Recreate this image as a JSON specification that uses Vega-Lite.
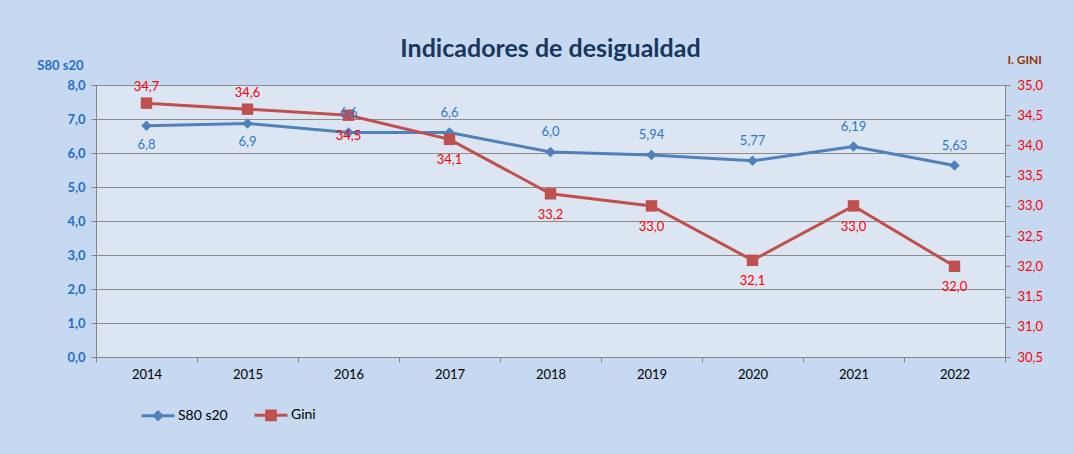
{
  "$schema": "https://vega.github.io/schema/vega-lite/v6.json",
  "width": 909,
  "height": 272,
  "autosize": "none",
  "padding": {"left": 96, "top": 85, "right": 68, "bottom": 97},
  "background": "#c6d9f0",
  "title": {
    "text": "Indicadores de desigualdad",
    "font": "Lato",
    "fontSize": 25,
    "fontWeight": "bold",
    "color": "#17375e",
    "anchor": "middle",
    "offset": -9
  },
  "data": {
    "values": [
      {"year": "2014", "s80": 6.8, "s80lbl": "6,8", "gini": 34.7},
      {"year": "2015", "s80": 6.87, "s80lbl": "6,9", "gini": 34.6},
      {"year": "2016", "s80": 6.6, "s80lbl": "6,6", "gini": 34.5},
      {"year": "2017", "s80": 6.6, "s80lbl": "6,6", "gini": 34.1},
      {"year": "2018", "s80": 6.03, "s80lbl": "6,0", "gini": 33.2},
      {"year": "2019", "s80": 5.94, "s80lbl": "5,94", "gini": 33.0},
      {"year": "2020", "s80": 5.77, "s80lbl": "5,77", "gini": 32.1},
      {"year": "2021", "s80": 6.19, "s80lbl": "6,19", "gini": 33.0},
      {"year": "2022", "s80": 5.63, "s80lbl": "5,63", "gini": 32.0}
    ]
  },
  "encoding": {
    "x": {
      "field": "year",
      "type": "ordinal",
      "bandPosition": 0.5,
      "scale": {"type": "band", "paddingInner": 0, "paddingOuter": 0},
      "axis": {
        "title": null,
        "labelAngle": 0,
        "tickBand": "extent",
        "grid": false,
        "tickSize": 5,
        "labelPadding": 6,
        "labelFont": "Lato",
        "labelFontSize": 13,
        "labelColor": "#000000",
        "domainColor": "#868686",
        "tickColor": "#868686"
      }
    }
  },
  "layer": [
    {
      "encoding": {
        "y": {
          "field": "s80",
          "type": "quantitative",
          "scale": {"domain": [0, 8], "nice": false, "zero": false},
          "axis": {
            "orient": "left",
            "values": [0, 1, 2, 3, 4, 5, 6, 7, 8],
            "format": ".1f",
            "title": "S80 s20",
            "titleAngle": 0,
            "titleAlign": "right",
            "titleBaseline": "middle",
            "titleX": -13,
            "titleY": -20,
            "titleFont": "Lato",
            "titleFontSize": 13,
            "titleFontWeight": "bold",
            "titleColor": "#1e6fcf",
            "labelFont": "Lato",
            "labelFontSize": 13,
            "labelFontWeight": "bold",
            "labelColor": "#1e6fcf",
            "labelPadding": 6,
            "tickSize": 5,
            "tickColor": "#868686",
            "domainColor": "#868686",
            "grid": true,
            "gridColor": "#8c8c8c",
            "gridWidth": 1
          }
        }
      },
      "layer": [
        {
          "mark": {"type": "line", "strokeWidth": 3},
          "encoding": {
            "color": {
              "datum": "S80 s20",
              "type": "nominal",
              "legend": {"encode": {"symbols": {"update": {
                "shape": {"signal": "datum.value == 'Gini' ? 'M-1,0L1,0M-0.26,-0.26L0.26,-0.26L0.26,0.26L-0.26,0.26Z' : 'M-1,0L1,0M0,-0.22L0.22,0L0,0.22L-0.22,0Z'"},
                "fill": {"signal": "datum.value == 'Gini' ? '#c0504d' : '#4f81bd'"},
                "stroke": {"signal": "datum.value == 'Gini' ? '#c0504d' : '#4f81bd'"},
                "strokeWidth": {"value": 3},
                "opacity": {"value": 1}
              }}}}
            }
          }
        },
        {
          "mark": {"type": "point", "shape": "diamond", "filled": true, "size": 110, "opacity": 1},
          "encoding": {
            "color": {
              "datum": "S80 s20",
              "type": "nominal",
              "legend": {"encode": {"symbols": {"update": {
                "shape": {"signal": "datum.value == 'Gini' ? 'M-1,0L1,0M-0.26,-0.26L0.26,-0.26L0.26,0.26L-0.26,0.26Z' : 'M-1,0L1,0M0,-0.22L0.22,0L0,0.22L-0.22,0Z'"},
                "fill": {"signal": "datum.value == 'Gini' ? '#c0504d' : '#4f81bd'"},
                "stroke": {"signal": "datum.value == 'Gini' ? '#c0504d' : '#4f81bd'"},
                "strokeWidth": {"value": 3},
                "opacity": {"value": 1}
              }}}}
            }
          }
        }
      ]
    },
    {
      "encoding": {
        "y": {
          "field": "gini",
          "type": "quantitative",
          "scale": {"domain": [30.5, 35], "nice": false, "zero": false},
          "axis": {
            "orient": "right",
            "values": [30.5, 31, 31.5, 32, 32.5, 33, 33.5, 34, 34.5, 35],
            "format": ".1f",
            "title": "I. GINI",
            "titleAngle": 0,
            "titleAlign": "left",
            "titleBaseline": "middle",
            "titleX": 2,
            "titleY": -26,
            "titleFont": "Lato",
            "titleFontSize": 12,
            "titleFontWeight": "bold",
            "titleColor": "#993300",
            "labelFont": "Lato",
            "labelFontSize": 13,
            "labelColor": "#ff0000",
            "labelPadding": 7,
            "tickSize": 5,
            "tickColor": "#868686",
            "domainColor": "#868686",
            "grid": false
          }
        }
      },
      "layer": [
        {
          "mark": {"type": "line", "strokeWidth": 3},
          "encoding": {
            "color": {
              "datum": "Gini",
              "type": "nominal",
              "legend": {"encode": {"symbols": {"update": {
                "shape": {"signal": "datum.value == 'Gini' ? 'M-1,0L1,0M-0.26,-0.26L0.26,-0.26L0.26,0.26L-0.26,0.26Z' : 'M-1,0L1,0M0,-0.22L0.22,0L0,0.22L-0.22,0Z'"},
                "fill": {"signal": "datum.value == 'Gini' ? '#c0504d' : '#4f81bd'"},
                "stroke": {"signal": "datum.value == 'Gini' ? '#c0504d' : '#4f81bd'"},
                "strokeWidth": {"value": 3},
                "opacity": {"value": 1}
              }}}}
            }
          }
        },
        {
          "mark": {"type": "point", "shape": "square", "filled": true, "size": 130, "opacity": 1},
          "encoding": {
            "color": {
              "datum": "Gini",
              "type": "nominal",
              "legend": {"encode": {"symbols": {"update": {
                "shape": {"signal": "datum.value == 'Gini' ? 'M-1,0L1,0M-0.26,-0.26L0.26,-0.26L0.26,0.26L-0.26,0.26Z' : 'M-1,0L1,0M0,-0.22L0.22,0L0,0.22L-0.22,0Z'"},
                "fill": {"signal": "datum.value == 'Gini' ? '#c0504d' : '#4f81bd'"},
                "stroke": {"signal": "datum.value == 'Gini' ? '#c0504d' : '#4f81bd'"},
                "strokeWidth": {"value": 3},
                "opacity": {"value": 1}
              }}}}
            }
          }
        }
      ]
    },
    {
      "encoding": {
        "y": {
          "field": "s80",
          "type": "quantitative",
          "scale": {"domain": [0, 8], "nice": false, "zero": false},
          "axis": null
        },
        "text": {"field": "s80lbl"}
      },
      "layer": [
        {
          "transform": [{"filter": "datum.year == '2014' || datum.year == '2015'"}],
          "mark": {"type": "text", "dy": 19, "baseline": "middle", "font": "Lato", "fontSize": 13, "color": "#2a78d2"}
        },
        {
          "transform": [{"filter": "datum.year != '2014' && datum.year != '2015'"}],
          "mark": {"type": "text", "dy": -20, "baseline": "middle", "font": "Lato", "fontSize": 13, "color": "#2a78d2"}
        }
      ]
    },
    {
      "encoding": {
        "y": {
          "field": "gini",
          "type": "quantitative",
          "scale": {"domain": [30.5, 35], "nice": false, "zero": false},
          "axis": null
        },
        "text": {"field": "gini", "format": ".1f"}
      },
      "layer": [
        {
          "transform": [{"filter": "datum.year == '2014' || datum.year == '2015'"}],
          "mark": {"type": "text", "dy": -16, "baseline": "middle", "font": "Lato", "fontSize": 13, "color": "#ff0000"}
        },
        {
          "transform": [{"filter": "datum.year != '2014' && datum.year != '2015'"}],
          "mark": {"type": "text", "dy": 21, "baseline": "middle", "font": "Lato", "fontSize": 13, "color": "#ff0000"}
        }
      ]
    }
  ],
  "resolve": {"scale": {"y": "independent"}},
  "config": {
    "locale": {"number": {"decimal": ",", "thousands": ".", "grouping": [3], "currency": ["", " €"]}},
    "view": {"fill": "#dce6f2", "stroke": "#868686", "strokeWidth": 1},
    "range": {"category": ["#4f81bd", "#c0504d"]},
    "legend": {
      "orient": "none",
      "legendX": 44,
      "legendY": 312,
      "direction": "horizontal",
      "title": null,
      "labelFont": "Lato",
      "labelFontSize": 14,
      "labelColor": "#000000",
      "symbolSize": 1089,
      "symbolStrokeWidth": 3,
      "labelOffset": 2,
      "columnPadding": 20
    }
  }
}
